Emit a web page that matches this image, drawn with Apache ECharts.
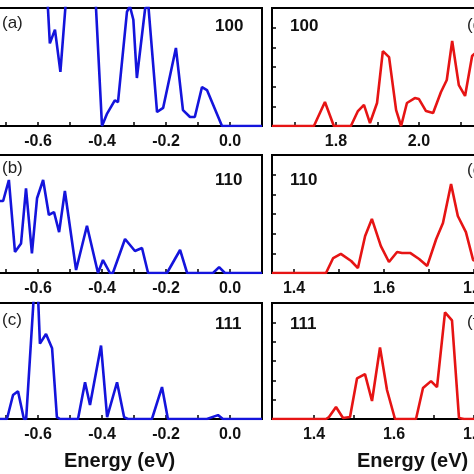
<!DOCTYPE html>
<html><head><meta charset="utf-8">
<script src="https://cdn.jsdelivr.net/npm/echarts@6/dist/echarts.min.js"></script>
<style>html,body{margin:0;padding:0;background:#fff;}#c{width:474px;height:474px;}</style>
</head><body><div id="c"></div>
<script>
// Valence-side DOS (blue), energy eV vs intensity
const blue100 = [[-0.80,10],[-0.70,12],[-0.62,9],[-0.574,7.5],[-0.563,4.2],[-0.547,4.9],[-0.53,2.75],[-0.505,8],[-0.47,10],[-0.44,9],[-0.425,8],[-0.40,0],[-0.385,0.6],[-0.36,1.3],[-0.35,1.22],[-0.322,5.8],[-0.313,6.1],[-0.302,5.4],[-0.291,2.44],[-0.265,6.0],[-0.255,6.1],[-0.228,0.71],[-0.209,0.92],[-0.169,3.97],[-0.147,0.81],[-0.125,0.46],[-0.11,0.46],[-0.0875,1.98],[-0.072,1.83],[-0.025,0],[0.1,0]];
const blue110 = [[-0.80,3.66],[-0.709,3.66],[-0.691,4.73],[-0.672,1.07],[-0.653,1.5],[-0.6375,4.3],[-0.619,1.0],[-0.603,3.8],[-0.584,4.73],[-0.566,2.95],[-0.55,3.1],[-0.534,2.08],[-0.516,4.17],[-0.481,0.15],[-0.447,2.4],[-0.4125,0],[-0.397,0.66],[-0.375,0],[-0.366,0],[-0.328,1.73],[-0.297,1.12],[-0.275,1.27],[-0.256,0],[-0.197,0],[-0.156,1.17],[-0.134,0],[-0.053,0],[-0.034,0.3],[-0.016,0],[0.1,0]];
const blue111 = [[-0.80,0],[-0.697,0],[-0.678,1.24],[-0.6625,1.44],[-0.644,0],[-0.637,0],[-0.605,8.5],[-0.594,3.9],[-0.575,4.4],[-0.556,3.66],[-0.541,0.1],[-0.531,0],[-0.475,0],[-0.453,1.9],[-0.4375,0.72],[-0.403,3.8],[-0.384,0.1],[-0.353,1.9],[-0.331,0.1],[-0.319,0],[-0.244,0],[-0.2125,1.65],[-0.194,0],[-0.072,0],[-0.0375,0.2],[-0.022,0],[0.1,0]];
// Conduction-side DOS (red)
const red100 = [[1.646,0],[1.747,0],[1.7735,1.22],[1.795,0],[1.836,0],[1.853,0.76],[1.8675,1.07],[1.882,0.15],[1.899,1.17],[1.913,3.81],[1.928,3.5],[1.945,0.81],[1.957,0],[1.971,1.17],[1.99,1.42],[2.0,1.37],[2.017,0.76],[2.034,0.66],[2.053,1.73],[2.067,2.34],[2.08,4.32],[2.096,2.08],[2.111,1.53],[2.128,3.56],[2.145,3.9]];
const red110 = [[1.351,0],[1.471,0],[1.487,0.76],[1.504,0.97],[1.527,0.61],[1.542,0.25],[1.558,1.88],[1.573,2.75],[1.593,1.37],[1.611,0.56],[1.629,1.07],[1.64,1.02],[1.658,1.02],[1.678,0.71],[1.696,0.36],[1.716,1.73],[1.731,2.54],[1.749,4.52],[1.764,2.9],[1.782,2.08],[1.798,0.66],[1.815,0.5]];
const red111 = [[1.295,0],[1.43,0],[1.4375,0.1],[1.455,0.62],[1.4725,0.05],[1.49,0.1],[1.5075,2.1],[1.5275,2.32],[1.545,0.93],[1.565,3.7],[1.5825,1.5],[1.6025,0],[1.655,0],[1.6725,1.6],[1.6925,1.96],[1.7075,1.65],[1.7275,5.52],[1.745,5.1],[1.7625,0.05],[1.775,0],[1.9,0]];

const leftTicks = [-0.7,-0.6,-0.5,-0.4,-0.3,-0.2,-0.1,0.0];
const leftLabels = [-0.6,-0.4,-0.2,0.0];
const rightTicksA = [1.7,1.8,1.9,2.0,2.1];
const rightLabelsA = [1.8,2.0];
const rightTicksB = [1.4,1.5,1.6,1.7,1.8];
const rightLabelsB = [1.4,1.6,1.8];
const rightTicksC = [1.4,1.5,1.6,1.7,1.8];
const rightLabelsC = [1.4,1.6,1.8];
const facetNames = ['100','110','111'];
const panelLetters = ['(a)','(b)','(c)','(d)','(e)','(f)'];
const axisTitle = 'Energy (eV)';

const BLUE = '#1414dc', RED = '#e61414';
const rows = [{top:8,height:118},{top:155,height:118},{top:303,height:116}];
const leftX = {min:-0.8,max:0.1,left:-26,width:288};
const rightX = [{min:1.646,max:2.2,width:230},{min:1.351,max:1.9,width:247},{min:1.295,max:1.9,width:242}];
const rTicks=[rightTicksA,rightTicksB,rightTicksC], rLabels=[rightLabelsA,rightLabelsB,rightLabelsC];
const blues=[blue100,blue110,blue111], reds=[red100,red110,red111];

const grid=[],xAxis=[],yAxis=[],series=[];
function addPanel(g, xmin, xmax, ticks, labels, data, color){
  const idx = grid.length;
  grid.push(Object.assign({show:true,borderColor:'#000',borderWidth:2,backgroundColor:'transparent',outerBoundsMode:'none',containLabel:false},g));
  xAxis.push({type:'value',gridIndex:idx,min:xmin,max:xmax,position:'bottom',
    axisLine:{show:false,onZero:false},splitLine:{show:false},
    axisTick:{show:true,inside:true,length:4,lineStyle:{color:'#000',width:1.5},customValues:ticks},
    axisLabel:{show:true,margin:8,customValues:labels,color:'#111',fontFamily:'Liberation Sans, Arial',fontWeight:'bold',fontSize:16,
      formatter:v=>Number(v).toFixed(1)}});
  yAxis.push({type:'value',gridIndex:idx,min:0,max:6,interval:1,position:'left',
    axisLine:{show:false,onZero:false},splitLine:{show:false},axisLabel:{show:false},
    axisTick:{show:true,inside:true,length:4,lineStyle:{color:'#000',width:1.5}}});
  series.push({type:'line',xAxisIndex:idx,yAxisIndex:idx,data:data,showSymbol:false,clip:true,
    lineStyle:{color:color,width:2.6},z:5,animation:false});
}
for(let i=0;i<3;i++){
  addPanel({left:leftX.left,width:leftX.width,top:rows[i].top,height:rows[i].height},leftX.min,leftX.max,leftTicks,leftLabels,blues[i],BLUE);
}
for(let i=0;i<3;i++){
  addPanel({left:272,width:rightX[i].width,top:rows[i].top,height:rows[i].height},rightX[i].min,rightX[i].max,rTicks[i],rLabels[i],reds[i],RED);
}
const font='Liberation Sans, Arial';
const graphic=[];
const letterY=[25,170,322], nameY=[27,181,325];
for(let i=0;i<3;i++){
  graphic.push({type:'text',left:2,top:letterY[i]-10,style:{text:panelLetters[i],font:'17px '+font,fill:'#222'}});
  graphic.push({type:'text',left:215,top:nameY[i]-9,style:{text:facetNames[i],font:'bold 17px '+font,fill:'#111'}});
  graphic.push({type:'text',left:290,top:nameY[i]-9,style:{text:facetNames[i],font:'bold 17px '+font,fill:'#111'}});
  graphic.push({type:'text',left:467,top:letterY[i]-8,style:{text:panelLetters[i+3],font:'17px '+font,fill:'#222'}});
}
graphic.push({type:'text',left:64,top:451,style:{text:axisTitle,font:'bold 20px '+font,fill:'#111'}});
graphic.push({type:'text',left:357,top:451,style:{text:axisTitle,font:'bold 20px '+font,fill:'#111'}});

const chart=echarts.init(document.getElementById('c'),null,{renderer:'canvas'});
chart.setOption({animation:false,backgroundColor:'#fff',grid,xAxis,yAxis,series,graphic});
</script></body></html>
